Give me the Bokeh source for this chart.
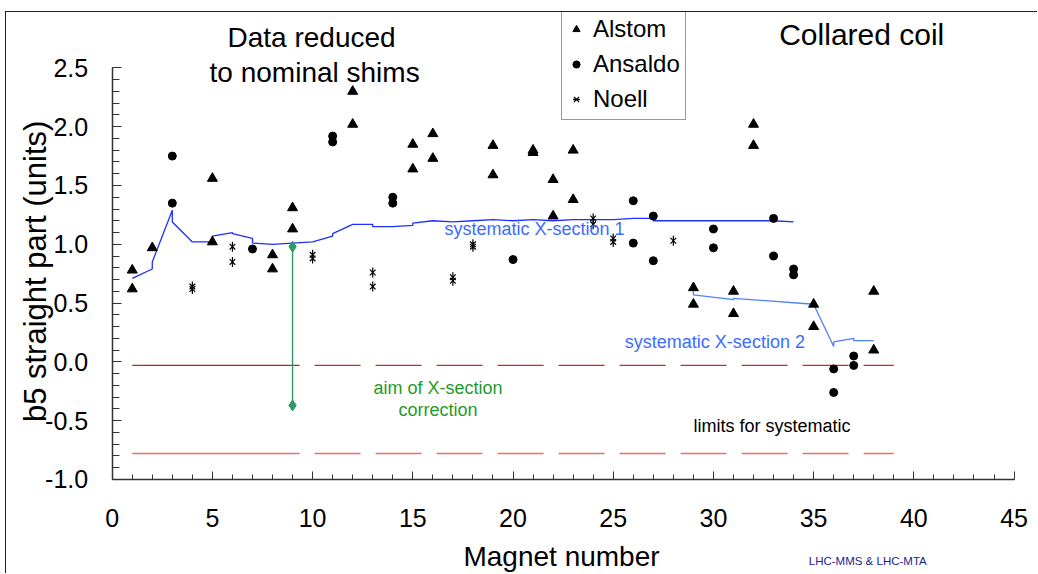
import math
from bokeh.plotting import figure
from bokeh.models import Range1d, FixedTicker, Label, Legend, LegendItem, PrintfTickFormatter
from bokeh.embed import file_html
from bokeh.resources import INLINE

FONT = "Liberation Sans"

# ---- data ----
alstom_x = [1, 1, 2, 5, 5, 8, 8, 9, 9, 12, 12, 15, 15, 16, 16, 19, 19, 21, 21, 22, 22,
            23, 23, 29, 29, 31, 31, 32, 32, 35, 35, 38, 38]
alstom_y = [0.78, 0.62, 0.97, 1.56, 1.02, 0.91, 0.79, 1.31, 1.13, 2.30, 2.02, 1.85, 1.64,
            1.94, 1.73, 1.84, 1.59, 1.80, 1.78, 1.55, 1.24, 1.80, 1.38, 0.63, 0.49, 0.60,
            0.41, 2.02, 1.84, 0.49, 0.30, 0.60, 0.10]

ansaldo_x = [3, 3, 7, 11, 11, 14, 14, 20, 26, 26, 27, 27, 30, 30, 33, 33, 34, 34, 36, 36, 37, 37]
ansaldo_y = [1.75, 1.35, 0.96, 1.92, 1.87, 1.40, 1.35, 0.87, 1.37, 1.01, 1.24, 0.86, 1.13,
             0.97, 1.22, 0.90, 0.79, 0.74, -0.06, -0.26, 0.05, -0.03]

noell_x = [4, 4, 6, 6, 10, 10, 13, 13, 17, 17, 18, 18, 24, 24, 25, 25, 28]
noell_y = [0.64, 0.62, 0.98, 0.85, 0.91, 0.88, 0.76, 0.64, 0.72, 0.69, 1.00, 0.98, 1.22,
           1.17, 1.05, 1.02, 1.03]

sys1_x = [1, 2, 2, 3, 3, 4, 5, 5, 6, 6, 7, 7, 8, 9, 10, 11, 11, 12, 13, 13, 14, 15, 15, 16,
          17, 18, 19, 20, 21, 22, 23, 24, 25, 26, 27, 27, 28, 29, 30, 31, 32, 33, 34]
sys1_y = [0.71, 0.79, 0.85, 1.29, 1.19, 1.02, 1.02, 1.07, 1.10, 1.09, 1.05, 1.01, 1.00, 1.01,
          1.02, 1.07, 1.09, 1.17, 1.17, 1.15, 1.15, 1.16, 1.18, 1.20, 1.19, 1.20, 1.21, 1.20,
          1.21, 1.20, 1.21, 1.21, 1.21, 1.22, 1.22, 1.20, 1.20, 1.20, 1.20, 1.20, 1.20, 1.20, 1.19]

sys2_x = [29, 29, 31, 31, 35, 36, 36, 37, 37, 38]
sys2_y = [0.60, 0.57, 0.53, 0.54, 0.49, 0.13, 0.17, 0.20, 0.18, 0.18]

limit_hi = -0.03
limit_lo = -0.78
limit_x = [1, 39]
limit_solid_end = 9.35

aim_x = 9
aim_from = 0.98
aim_to = -0.37

x_ticks = [0, 5, 10, 15, 20, 25, 30, 35, 40, 45]
x_minor = list(range(0, 46))
y_ticks = [-1.0, -0.5, 0.0, 0.5, 1.0, 1.5, 2.0, 2.5]
y_minor = [round(-1.0 + 0.1 * i, 1) for i in range(36)]

# ---- figure: the frame fills the canvas, axes sit at fixed data locations ----
p = figure(width=1032, height=562, output_backend="svg", toolbar_location=None,
           x_range=Range1d(-5.274, 46.22), y_range=Range1d(-1.808, 2.971),
           min_border_left=0, min_border_right=0, min_border_top=0, min_border_bottom=0)
p.margin = (11, 0, 0, 5)
p.styles = {"border-top": "1px solid #222", "border-left": "1px solid #222"}
p.outline_line_color = None
p.grid.visible = False
p.background_fill_color = "white"
p.border_fill_color = "white"

for ax in (p.xaxis, p.yaxis):
    ax.axis_line_color = "#333333"
    ax.axis_line_width = 1.5
    ax.major_tick_line_color = "#333333"
    ax.minor_tick_line_color = "#333333"
    ax.major_tick_out = 0
    ax.minor_tick_out = 0
    ax.major_label_text_font = FONT
    ax.major_label_text_font_size = "25px"
    ax.major_label_text_color = "black"

p.xaxis.fixed_location = -1.0
p.xaxis.bounds = (0, 45)
p.xaxis.ticker = FixedTicker(ticks=x_ticks, minor_ticks=x_minor)
p.xaxis.major_tick_in = 8
p.xaxis.minor_tick_in = 5
p.xaxis.major_label_standoff = 30

p.yaxis.fixed_location = 0
p.yaxis.bounds = (-1.0, 2.5)
p.yaxis.ticker = FixedTicker(ticks=y_ticks, minor_ticks=y_minor)
p.yaxis.formatter = PrintfTickFormatter(format="%.1f")
p.yaxis.major_tick_in = 9
p.yaxis.minor_tick_in = 7
p.yaxis.major_label_standoff = 24

# limits for systematic
p.line([limit_x[0], limit_solid_end], [limit_hi, limit_hi], line_color="#b02a2a", line_width=1.3)
p.line([limit_solid_end, limit_x[1]], [limit_hi, limit_hi], line_color="#d42424", line_width=1.3,
       line_dash="46 15", line_dash_offset=46)
p.line([limit_x[0], limit_solid_end], [limit_lo, limit_lo], line_color="#f26b6b", line_width=1.5)
p.line([limit_solid_end, limit_x[1]], [limit_lo, limit_lo], line_color="#f26b6b", line_width=1.5,
       line_dash="46 15", line_dash_offset=46)

# systematic lines
p.line(sys1_x, sys1_y, line_color="#1f2fff", line_width=1.3)
p.line(sys2_x, sys2_y, line_color="#4f7fff", line_width=1.3)

# aim of correction
p.segment(x0=[aim_x], y0=[aim_from], x1=[aim_x], y1=[aim_to], line_color="#2f9a66", line_width=1.4)
p.scatter([aim_x, aim_x], [aim_from, aim_to], marker="diamond", size=11, color="#2f9a66")

# data points
r_al = p.scatter(alstom_x, alstom_y, marker="triangle", size=10, color="black")
r_an = p.scatter(ansaldo_x, ansaldo_y, marker="circle", size=8, color="black")
r_no1 = p.scatter(noell_x, noell_y, marker="x", size=8, line_color="black", line_width=1.2)
r_no2 = p.scatter(noell_x, noell_y, marker="dash", angle=math.pi / 2, size=10,
                  line_color="black", line_width=1.2)

legend = Legend(items=[LegendItem(label="Alstom", renderers=[r_al]),
                       LegendItem(label="Ansaldo", renderers=[r_an]),
                       LegendItem(label="Noell", renderers=[r_no1, r_no2])],
                location=(555, 454), margin=0, padding=5, spacing=5,
                glyph_width=18, glyph_height=30, label_height=30, label_standoff=8,
                label_text_font=FONT, label_text_font_size="24px", label_text_color="black",
                border_line_color="#333333", border_line_width=1,
                background_fill_color="white", background_fill_alpha=1.0)
p.add_layout(legend)

def lab(x, y, text, size, color="black", align="center", angle=0.0):
    p.add_layout(Label(x=x, y=y, text=text, text_align=align, text_baseline="middle",
                       text_font=FONT, text_font_size=size, text_color=color, angle=angle))

lab(22.42, -1.655, "Magnet number", "28px")
lab(-3.85, 0.77, "b5 straight part (units)", "31px", angle=math.pi / 2)
lab(9.95, 2.757, "Data reduced", "28px")
lab(10.1, 2.46, "to nominal shims", "28px")
lab(37.4, 2.788, "Collared coil", "30px")
lab(16.58, 1.13, "systematic X-section 1", "18px", "#3d6bff", "left")
lab(25.58, 0.165, "systematic X-section 2", "18px", "#3d6bff", "left")
lab(16.26, -0.218, "aim of X-section", "18px", "#1f9a2a")
lab(16.26, -0.409, "correction", "18px", "#1f9a2a")
lab(32.92, -0.544, "limits for systematic", "18px")
lab(37.7, -1.689, "LHC-MMS & LHC-MTA", "11.5px", "#1c1c8f")

open("out.html", "w").write(file_html(p, INLINE))
